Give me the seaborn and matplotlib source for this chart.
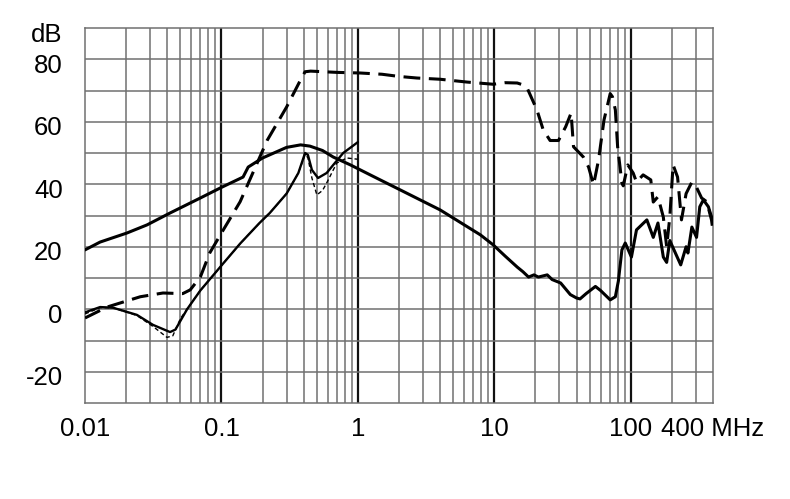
import numpy as np
import pandas as pd
import seaborn as sns
import matplotlib.pyplot as plt
import matplotlib.transforms as mtransforms

sns.set_theme(style="white")
plt.rcParams['font.family'] = ['Liberation Sans', 'DejaVu Sans']

# upper solid curve
a_freq = [0.01, 0.0129, 0.0203, 0.0285, 0.042, 0.07, 0.1, 0.144, 0.157, 0.2, 0.3, 0.38,
          0.445, 0.55, 0.66, 0.88, 1.23, 2.04, 4.0, 7.9, 9.8, 12, 14.7, 16.2, 17.8, 19.5,
          21, 24.4, 26.5, 30.6, 36, 40, 42.4, 47, 55, 60, 70.6, 77, 81, 86, 91, 101, 110,
          131, 146, 158, 173, 183, 193, 212, 232, 254, 262, 280, 303, 320, 340, 370, 400]
a_db = [19, 21.5, 24.4, 27, 30.8, 35.6, 39, 42.3, 45.5, 48.4, 51.8, 52.6,
        52.2, 50.8, 48.7, 46.2, 43, 38.2, 31.8, 23.8, 20.6, 17, 13.5, 12, 10.3, 11,
        10.3, 11, 9.5, 8.4, 4.7, 3.6, 3.3, 5, 7.3, 6, 3, 4, 9, 19, 21.2, 16.7, 25.4,
        28.6, 23, 27.6, 16.7, 15, 22, 18, 14.2, 20, 18, 26.3, 23, 32.8, 35, 32.8, 28]

# long dashed curve
b_freq = [0.01, 0.0145, 0.0254, 0.0373, 0.052, 0.059, 0.07, 0.082, 0.1, 0.137, 0.216,
          0.3, 0.38, 0.41, 0.45, 0.7, 1.04, 1.5, 2.0, 2.7, 4, 6.3, 9.8, 12, 14.7, 16.2, 17.5,
          20.5, 22.8, 25.6, 29.5, 33.3, 36.5, 38, 44.9, 49, 53.3, 58, 63.6, 70.6, 73.3, 77,
          80, 86, 88, 95, 104, 110, 123, 140, 146, 158, 173, 183, 193, 204, 220, 235, 254,
          280, 303, 330, 360, 390, 400]
b_db = [-2.8, 0.7, 4, 5.2, 5.0, 6.2, 10.3, 18, 24.4, 34.4, 54,
        64.7, 73.4, 76, 76.2, 75.8, 75.6, 75.2, 74.5, 74, 73.6, 72.7, 72, 72.5, 72.4, 71.8, 70.5,
        63.8, 57.4, 54, 54, 58.4, 62.8, 52, 48.7, 45.5, 39.8, 47.8, 60.6, 69, 68, 63.8,
        52, 40.4, 39.5, 46.2, 43.6, 40.7, 43, 41.4, 34.3, 36, 29.5, 20, 29.5, 46.2, 42.3, 28.6, 37,
        40.7, 39, 35.6, 34.4, 28.6, 25]

# lower solid curve
c_freq = [0.01, 0.0129, 0.016, 0.024, 0.0315, 0.042, 0.046, 0.056, 0.07, 0.1,
          0.137, 0.19, 0.226, 0.3, 0.366, 0.41, 0.43, 0.46, 0.51, 0.59, 0.66, 0.78, 0.9, 1.0]
c_db = [-1.0, 0.7, 0.5, -1.8, -5, -7.3, -6.5, 0, 6, 14,
        21, 27.6, 30.8, 37, 43.6, 50, 49.4, 44.6, 42, 43.6, 46.2, 50, 52, 53.5]

# fine dotted curve
d_freq = [0.01, 0.0129, 0.016, 0.024, 0.0315, 0.0399, 0.044, 0.05, 0.059, 0.07, 0.1,
          0.137, 0.19, 0.226, 0.3, 0.366, 0.41, 0.43, 0.46, 0.5, 0.55, 0.59, 0.7, 0.83, 1.0]
d_db = [-1.5, 0.5, 0.5, -2, -5.5, -9, -8.5, -3, 1.5, 6, 14,
        21, 27.6, 30.8, 37, 43.6, 49.5, 48.5, 42, 36.6, 38, 40.4, 46.8, 48.4, 48]

x_ticks = [0.01, 0.1, 1, 10, 100, 400]
x_labels = ["0.01", "0.1", "1", "10", "100", "400 MHz"]
y_ticks = [-20, 0, 20, 40, 60, 80, 90]
y_labels = ["-20", "0", "20", "40", "60", "80", "dB"]

fig = plt.figure(figsize=(7.9, 4.99), dpi=100)
ax = fig.add_axes([85 / 790, 1 - 403 / 499, (713 - 85) / 790, (403 - 28) / 499])
ax.set_xscale("log")
ax.set_xlim(0.01, 400)
ax.set_ylim(-30, 90)

# grid
minor = [m * 10.0 ** e for e in range(-2, 3) for m in range(2, 10) if m * 10.0 ** e < 400]
for v in minor:
    ax.axvline(v, color="#707070", lw=1.1, zorder=1)
for v in [0.1, 1, 10, 100]:
    ax.axvline(v, color="#111111", lw=1.6, zorder=1)
for v in range(-20, 90, 10):
    ax.axhline(v, color="#707070", lw=1.1, zorder=1)

sns.lineplot(x=a_freq, y=a_db, ax=ax, color="black", lw=2.2, estimator=None, zorder=3)
sns.lineplot(x=b_freq, y=b_db, ax=ax, color="black", lw=2.2, estimator=None, zorder=3,
             linestyle=(0, (5.5, 2.8)))
sns.lineplot(x=c_freq, y=c_db, ax=ax, color="black", lw=1.7, estimator=None, zorder=3)
sns.lineplot(x=d_freq, y=d_db, ax=ax, color="black", lw=1.0, estimator=None, zorder=3,
             linestyle=(0, (3, 2)))

ax.xaxis.set_minor_locator(plt.NullLocator())
ax.set_xticks(x_ticks)
ax.set_xticklabels(x_labels)
ax.set_yticks(y_ticks)
ax.set_yticklabels(y_labels)
ax.tick_params(axis="both", length=0, labelsize=18.5, colors="black")
ax.tick_params(axis="y", pad=16)
ax.tick_params(axis="x", pad=10)
offset = mtransforms.ScaledTranslation(0, -4 / 100, fig.dpi_scale_trans)
for lab in ax.get_yticklabels():
    lab.set_transform(lab.get_transform() + offset)

for s in ax.spines.values():
    s.set_color("#707070")
    s.set_linewidth(1.1)

fig.savefig("out.png", dpi=100)
